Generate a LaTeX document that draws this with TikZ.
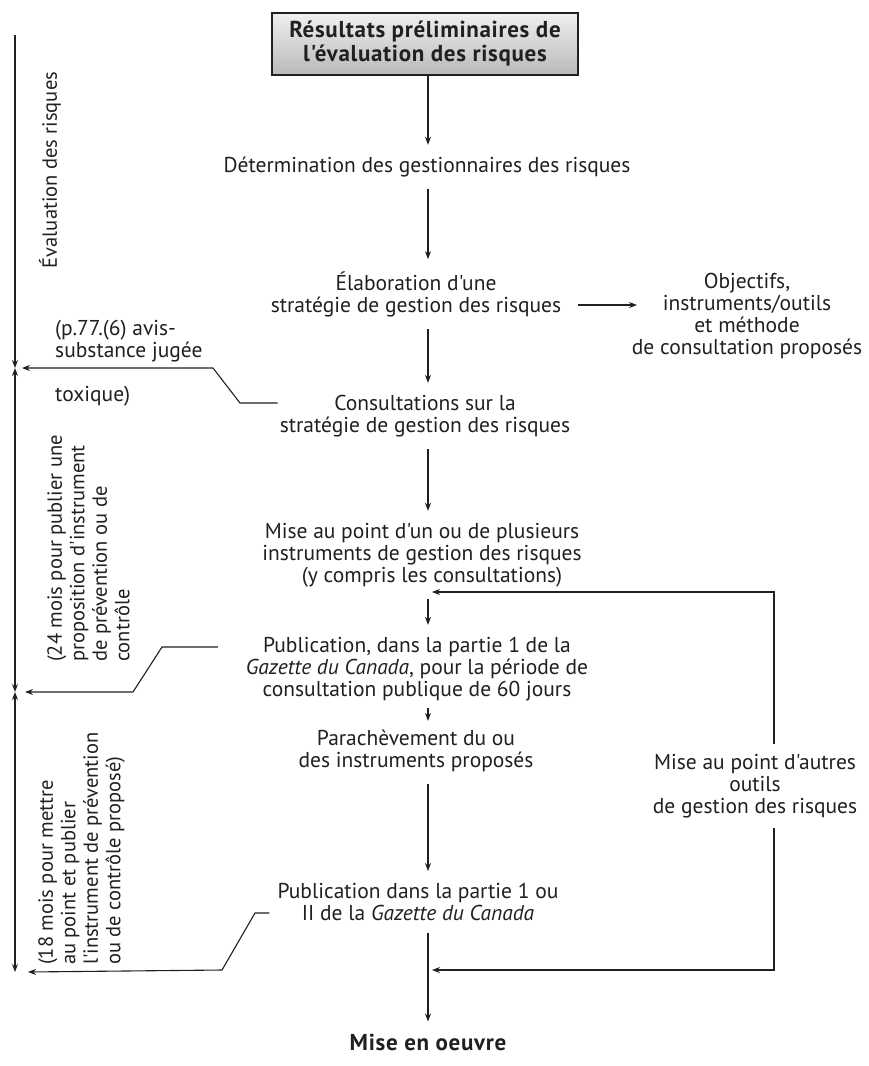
\documentclass[tikz,border=0pt]{standalone}
\usepackage{fontspec}
\setmainfont{PT Sans}[Ligatures=TeXOff]
\usetikzlibrary{arrows.meta}
\definecolor{ink}{HTML}{231F20}
\begin{document}
\begin{tikzpicture}[x=1pt,y=-1pt,
  every node/.style={font=\fontsize{21.5}{22}\selectfont, text=ink, inner sep=0pt, align=center},
  lbl/.style={inner ysep=12pt},
  side/.style={align=left, rotate=90, font=\fontsize{20.5}{22.5}\selectfont},
  heavy/.style={font=\fontsize{23}{24}\selectfont\bfseries\addfontfeature{LetterSpace=3}},
  conn/.style={draw=ink, line width=1.1pt},
  arr/.style={conn, -{Stealth[length=8pt,width=6pt]}},
  darr/.style={conn, {Stealth[length=8pt,width=6pt]}-{Stealth[length=8pt,width=6pt]}},
  titlebox/.style={heavy, draw=ink, line width=2.5pt, top color=gray!12, bottom color=gray!55,
    minimum width=306pt, minimum height=62pt}]
\path[fill=white] (0,0) rectangle (868,1066);

% main column
\node[titlebox] (t) at (425,44) {Résultats préliminaires de\\l'évaluation des risques};
\coordinate (col) at (428,0);
\node[lbl] (d1) at (427,167) {Détermination des gestionnaires des risques};
\node[lbl] (d2) at (416,294) {Élaboration d'une\\stratégie de gestion des risques};
\node (obj) at (747,316) {Objectifs,\\instruments/outils\\et méthode\\de consultation proposés};
\node[lbl] (d3) at (425,416) {Consultations sur la\\stratégie de gestion des risques};
\node[lbl] (d4) at (422,555) {Mise au point d'un ou de plusieurs\\instruments de gestion des risques\\\hspace*{20pt}(y compris les consultations)};
\node[lbl] (d5) at (417,669) {Publication, dans la partie 1 de la\\\textit{Gazette du Canada}, pour la période de\\consultation publique de 60 jours};
\node[lbl] (d6) at (416,751) {Parachèvement du ou\\des instruments proposés};
\node (d7) at (755,786) {Mise au point d'autres\\outils\\de gestion des risques};
\node[lbl] (d8) at (418,902) {Publication dans la partie 1 ou\\II de la \textit{Gazette du Canada}};
\node[lbl, heavy] (d9) at (428,1042) {Mise en oeuvre};

\draw[arr] (t.south -| col) -- (d1.north -| col);
\draw[arr] (d1.south -| col) -- (d2.north -| col);
\draw[arr] (d2.south -| col) -- (d3.north -| col);
\draw[arr] (d3.south -| col) -- (d4.north -| col);
\draw[arr] (d4.south -| col) -- (d5.north -| col);
\draw[arr, shorten <=-5pt, shorten >=-3pt] (d5.south -| col) -- (d6.north -| col);
\draw[arr] (d6.south -| col) -- (d8.north -| col);
\draw[arr] (d8.south -| col) -- (d9.north -| col);

% right side
\coordinate (ra1) at (578,305);
\coordinate (ra2) at (637,305);
\draw[arr] (ra1) -- (ra2);
\coordinate (rx) at (774,0);
\coordinate (fb) at (432,592);
\coordinate (bb) at (432,970);
\draw[arr] ([yshift=10pt]d7.north -| rx) -- (rx |- fb) -- (fb);
\draw[arr] ([yshift=-10pt]d7.south -| rx) -- (rx |- bb) -- (bb);

% left scale
\coordinate (v0) at (15,35);
\coordinate (x1) at (15,368);
\coordinate (x2) at (15,692);
\coordinate (v3) at (15,972);
\draw[arr] (v0) -- (x1);
\draw[darr] (x1) -- (x2);
\draw[darr] (x2) -- (v3);

\node[rotate=90, font=\fontsize{20.5}{22.5}\selectfont] (ev) at (50,170) {Évaluation des risques};
\node[anchor=north west, align=left] (p77) at (55,320) {(p.77.(6) avis-\\substance jugée};
\node[anchor=west] (tox) at (55,396) {toxique)};
\node[side, anchor=north west] (m24) at (47,662) {(24 mois pour publier une\\proposition d'instrument\\de prévention ou de\\contrôle};
\node[side, anchor=north west] (m18) at (38,965) {(18 mois pour mettre\\au point et publier\\l'instrument de prévention\\ou de contrôle proposé)};

% left connectors
\draw[arr] ([xshift=-2pt]d3.west |- 0,403) -- (240,403) -- (213,368) -- ([xshift=7pt]x1);
\draw[arr] ([xshift=-28pt]d5.west |- 0,647) -- (162,647) -- (133,692) -- ([xshift=10pt]x2);
\draw[arr] ([xshift=-8pt]d8.west |- 0,913) -- (255,913) -- (222,970) -- ([xshift=13pt]v3);
\end{tikzpicture}
\end{document}
